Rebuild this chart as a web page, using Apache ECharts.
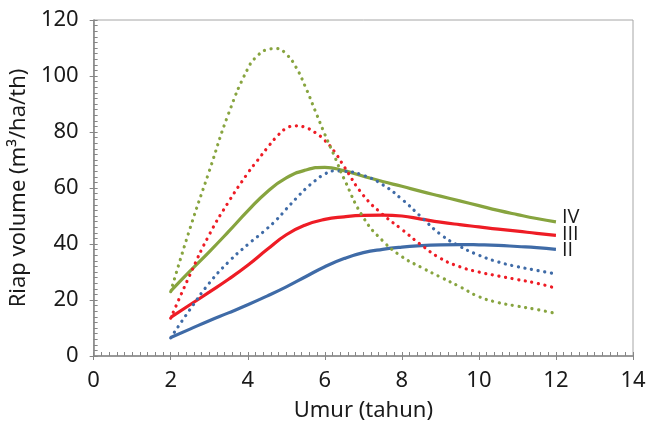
<!DOCTYPE html>
<html>
<head>
    <meta charset="utf-8">
    <title>Riap volume</title>
    <script src="https://cdn.jsdelivr.net/npm/echarts@6/dist/echarts.min.js"></script>
    <style>
        html, body { margin: 0; padding: 0; background: #fff; }
    </style>
</head>
<body>
    <div id="main" style="width:656px;height:432px;"></div>
    <script type="text/javascript">
        // umur (tahun)
        var ageSolid = [2, 2.5, 3, 3.5, 4, 4.5, 5, 5.5, 6, 6.5, 7, 7.5, 8, 8.5, 9, 9.5, 10, 10.5, 11, 11.5, 12];
        var ageDot = [2, 2.5, 3, 3.5, 4, 4.25, 4.5, 4.75, 5, 5.25, 5.5, 5.75, 6, 6.25, 6.5, 7, 7.5, 8, 8.5, 9, 9.5, 10, 10.5, 11, 11.5, 12];

        // garis penuh
        var solidII = [6.6, 9.6, 12.6, 15.4, 18.3, 21.4, 24.7, 28.3, 31.9, 34.8, 36.9, 38.1, 38.9, 39.4, 39.7, 39.8, 39.7, 39.5, 39.1, 38.7, 38.1];
        var solidIII = [13.8, 18.3, 22.8, 27.4, 32.4, 38, 43.3, 46.8, 48.8, 49.7, 50.2, 50.3, 50, 48.9, 47.8, 46.9, 46.1, 45.3, 44.6, 43.8, 43.1];
        var solidIV = [23.2, 30.3, 37.2, 44.4, 51.8, 58.6, 63.6, 66.4, 67.4, 66.2, 64.2, 62.3, 60.6, 58.8, 57.1, 55.4, 53.7, 52, 50.5, 49.1, 47.9];

        // garis titik-titik
        var dotII = [6.5, 16.6, 26, 33.6, 39.8, 42.6, 45.5, 48.7, 52.5, 56.2, 59.7, 62.6, 65, 66.1, 66, 64.5, 61.2, 56, 49.7, 43.5, 39.2, 36, 33.6, 31.9, 30.6, 29.3];
        var dotIII = [13.5, 29, 43.3, 55, 65.3, 69.8, 74.2, 78.3, 81.3, 82.2, 81.6, 79.8, 77, 73, 67.7, 57.4, 50.6, 45.2, 39.7, 34.9, 31.9, 30, 28.6, 27.3, 26, 24.2];
        var dotIV = [23, 45.5, 66, 86.5, 102.6, 107.2, 109.4, 109.8, 107.8, 103.2, 96, 87.6, 79.2, 71.4, 63.3, 49.5, 41.2, 35.5, 31.7, 28.2, 24.8, 21.2, 19.1, 17.8, 16.6, 15.2];

        var xTicks = { min: 0, max: 14, interval: 2 };
        var yTicks = { min: 0, max: 120, interval: 20 };

        var FONT = 'Noto Sans';
        var LABEL_FONT = 'Open Sans';
        var BLUE = '#3f6ba7', RED = '#ee1c25', GREEN = '#87a43f';
        var AXIS = '#868686';
        var TEXT = '#1a1a1a';

        function pairs(xs, ys) {
            return xs.map(function (x, i) { return [x, ys[i]]; });
        }

        function solid(name, color, xs, ys, dy) {
            return {
                name: name, type: 'line', data: pairs(xs, ys),
                smooth: true, symbol: 'none', z: 3,
                lineStyle: { color: color, width: 3.2 },
                endLabel: {
                    show: true, formatter: '{a}', distance: 6, offset: [0, dy],
                    fontFamily: LABEL_FONT, fontSize: 20, color: TEXT
                }
            };
        }

        function dotted(name, color, xs, ys) {
            return {
                name: name, type: 'line', data: pairs(xs, ys),
                smooth: true, symbol: 'none', z: 4,
                lineStyle: { color: color, width: 3.2, type: [0.1, 6.6], cap: 'round' }
            };
        }

        var myChart = echarts.init(document.getElementById('main'));

        var option = {
            animation: false,
            textStyle: { fontFamily: FONT },
            grid: {
                left: 93, right: 23, top: 20, bottom: 76,
                show: true, borderColor: '#a6a6a6', borderWidth: 1
            },
            xAxis: [{
                type: 'value', position: 'bottom',
                min: xTicks.min, max: xTicks.max, interval: xTicks.interval,
                name: 'Umur (tahun)', nameLocation: 'middle', nameGap: 44,
                nameTextStyle: { fontFamily: FONT, fontSize: 22, color: TEXT },
                axisLine: { lineStyle: { color: AXIS, width: 1.5 } },
                axisTick: { inside: true, length: 4, lineStyle: { color: AXIS } },
                minorTick: { show: true, splitNumber: 10, length: 4, lineStyle: { color: AXIS } },
                axisLabel: { fontFamily: FONT, fontSize: 22, color: TEXT, margin: 14 },
                splitLine: { show: false }
            }, {
                type: 'value', position: 'bottom', offset: 0,
                min: xTicks.min, max: xTicks.max, interval: xTicks.interval,
                axisLine: { show: false },
                axisTick: { inside: false, length: 4, lineStyle: { color: AXIS } },
                axisLabel: { show: false },
                splitLine: { show: false }
            }],
            yAxis: [{
                type: 'value', position: 'left',
                min: yTicks.min, max: yTicks.max, interval: yTicks.interval,
                name: 'Riap volume (m³/ha/th)', nameLocation: 'middle', nameGap: 61,
                nameTextStyle: { fontFamily: FONT, fontSize: 22, color: TEXT },
                axisLine: { show: true, lineStyle: { color: AXIS, width: 1.5 } },
                axisTick: { show: true, inside: true, length: 4, lineStyle: { color: AXIS } },
                minorTick: { show: true, splitNumber: 10, length: 4, lineStyle: { color: AXIS } },
                axisLabel: { fontFamily: FONT, fontSize: 22, color: TEXT, margin: 15 },
                splitLine: { show: false }
            }, {
                type: 'value', position: 'left', offset: 0,
                min: yTicks.min, max: yTicks.max, interval: yTicks.interval,
                axisLine: { show: false },
                axisTick: { show: true, inside: false, length: 4, lineStyle: { color: AXIS } },
                axisLabel: { show: false },
                splitLine: { show: false }
            }],
            series: [
                solid('II', BLUE, ageSolid, solidII, 1),
                solid('III', RED, ageSolid, solidIII, -1),
                solid('IV', GREEN, ageSolid, solidIV, -5),
                dotted('II dot', BLUE, ageDot, dotII),
                dotted('III dot', RED, ageDot, dotIII),
                dotted('IV dot', GREEN, ageDot, dotIV)
            ]
        };
        myChart.setOption(option);
    </script>
</body>
</html>
